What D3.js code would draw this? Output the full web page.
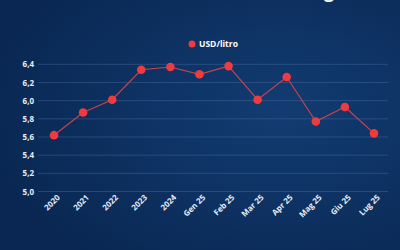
<!DOCTYPE html>
<html>
<head>
<meta charset="utf-8">
<script src="https://cdn.jsdelivr.net/npm/d3@7"></script>
<style>
  body { margin: 0; background: #0b2c5c; }
  svg { display: block; font-family: "Open Sans", sans-serif; }
</style>
</head>
<body>
<div id="chart"></div>
<script>
// chart data
var labels = ["2020", "2021", "2022", "2023", "2024", "Gen 25", "Feb 25", "Mar 25", "Apr 25", "Mag 25", "Giu 25", "Lug 25"];
var prices = [5.62, 5.87, 6.01, 6.34, 6.37, 6.29, 6.38, 6.01, 6.26, 5.77, 5.93, 5.64];
var yTicks = [5.0, 5.2, 5.4, 5.6, 5.8, 6.0, 6.2, 6.4];
var seriesName = "USD/litro";

var w = 400;
var h = 250;

var svg = d3.select("#chart").append("svg").attr("width", w).attr("height", h);

// background with a soft gradient
var defs = svg.append("defs");
var grad = defs.append("radialGradient").attr("id", "bg").attr("cx", "70%").attr("cy", "45%").attr("r", "75%");
grad.append("stop").attr("offset", "0%").attr("stop-color", "#123c72");
grad.append("stop").attr("offset", "100%").attr("stop-color", "#092752");
svg.append("rect").attr("width", w).attr("height", h).attr("fill", "url(#bg)");

// cut-off title descender at the top
svg.append("text")
    .attr("x", 329).attr("y", -2)
    .attr("text-anchor", "middle")
    .attr("font-size", "18px").attr("font-weight", 700)
    .attr("fill", "#ffffff")
    .text("g");

var x = d3.scalePoint().domain(labels).range([54, 374]);
var y = d3.scaleLinear().domain([5.0, 6.4]).range([191.5, 64.3]);

// gridlines
svg.selectAll("line.grid")
    .data(yTicks)
    .enter()
    .append("line")
    .attr("class", "grid")
    .attr("x1", 38).attr("x2", 388)
    .attr("y1", function(d) { return y(d); })
    .attr("y2", function(d) { return y(d); })
    .attr("stroke", "#5a7bb0")
    .attr("stroke-opacity", 0.45)
    .attr("stroke-width", 0.8);

// y labels
var fmt = function(d) { return d3.format(".1f")(d).replace(".", ","); };
var yAxis = svg.append("g")
    .attr("transform", "translate(34,0)")
    .call(d3.axisLeft(y).tickValues(yTicks).tickFormat(fmt).tickSize(0).tickPadding(0));
yAxis.select(".domain").remove();
yAxis.selectAll("text")
    .attr("font-family", "Open Sans, sans-serif")
    .attr("font-size", "8px")
    .attr("font-weight", 700)
    .attr("fill", "#e6eefa");

// x labels
var xAxis = svg.append("g")
    .attr("transform", "translate(0,196)")
    .call(d3.axisBottom(x).tickSize(0).tickPadding(0));
xAxis.select(".domain").remove();
xAxis.selectAll("text")
    .attr("font-family", "Open Sans, sans-serif")
    .attr("font-size", "8px")
    .attr("font-weight", 700)
    .attr("fill", "#e6eefa")
    .attr("text-anchor", "end")
    .attr("dy", "0.35em")
    .attr("transform", "translate(4,0) rotate(-45)");

// line
var line = d3.line()
    .x(function(d, i) { return x(labels[i]); })
    .y(function(d) { return y(d); });

svg.append("path")
    .datum(prices)
    .attr("d", line)
    .attr("fill", "none")
    .attr("stroke", "#c9424f")
    .attr("stroke-width", 1.2);

// points
svg.selectAll("circle.pt")
    .data(prices)
    .enter()
    .append("circle")
    .attr("class", "pt")
    .attr("cx", function(d, i) { return x(labels[i]); })
    .attr("cy", function(d) { return y(d); })
    .attr("r", 4.3)
    .attr("fill", "#ef3b3d");

// legend
svg.append("circle").attr("cx", 192).attr("cy", 44).attr("r", 3.5).attr("fill", "#ef3b3d");
svg.append("text")
    .attr("x", 199).attr("y", 47)
    .attr("font-size", "8.5px").attr("font-weight", 700)
    .attr("fill", "#ffffff")
    .text(seriesName);
</script>
</body>
</html>
